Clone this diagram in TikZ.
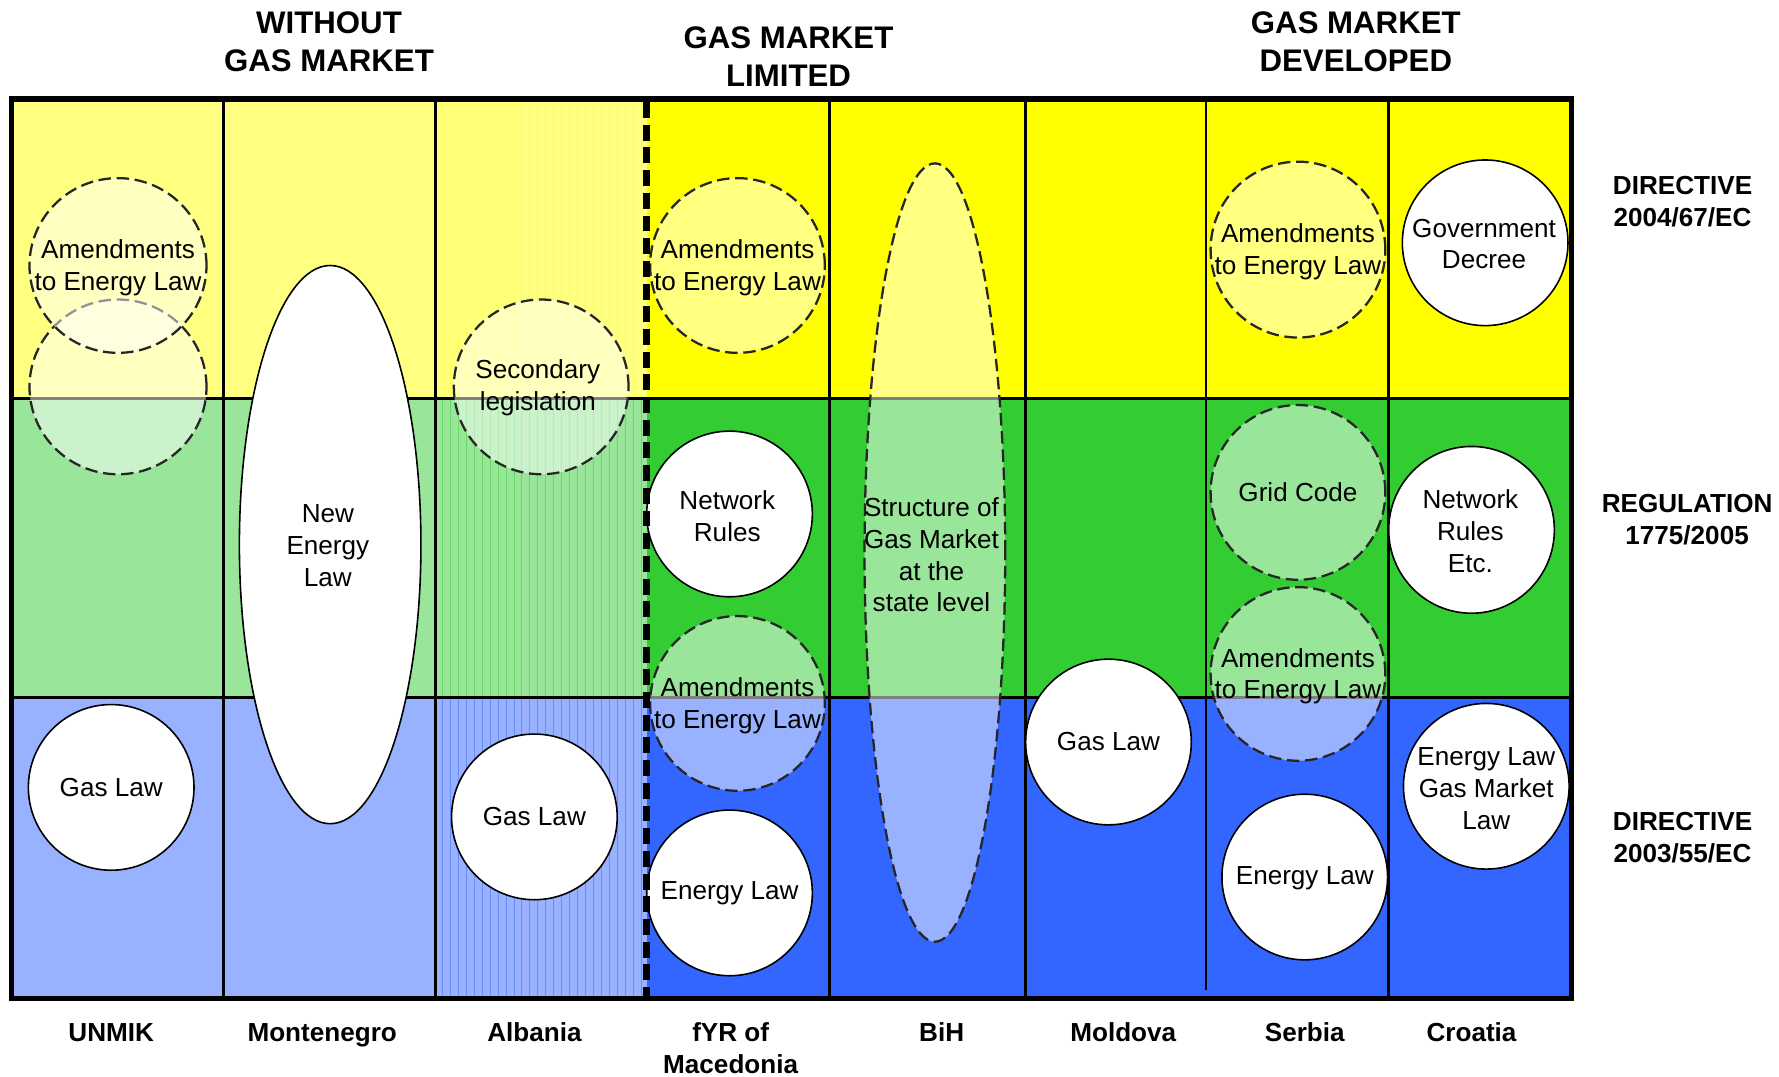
\documentclass[tikz,border=0pt]{standalone}
\usepackage{fontspec}
\setmainfont{Liberation Sans}
\usetikzlibrary{shapes.geometric}
\definecolor{yel}{HTML}{FFFF00}
\definecolor{grn}{HTML}{33CC33}
\definecolor{blu}{HTML}{3366FF}
\newcommand\myCellFont{\fontsize{23}{28}\selectfont}
\newcommand\myHeadFont{\fontsize{27.5}{33}\selectfont\bfseries}
\newcommand\myLabFont{\fontsize{23}{28}\selectfont\bfseries}
\tikzset{
  lawbox/.style={ellipse, draw=black, line width=1.4pt, fill=white, inner sep=0pt},
  amendbox/.style={ellipse, draw=black!85, line width=2pt, dash pattern=on 11pt off 5pt,
    fill=white, fill opacity=0.5, draw opacity=1, inner sep=0pt},
  celltext/.style={align=center, font=\myCellFont, inner sep=0pt},
  head/.style={align=center, font=\myHeadFont, inner sep=0pt},
  lab/.style={align=center, font=\myLabFont, inner sep=0pt, anchor=base},
  gridline/.style={line width=2.4pt, black},
}
\begin{document}
\begin{tikzpicture}[x=1pt,y=-1pt]
\useasboundingbox (0,0) rectangle (1568,949);
% backgrounds
\fill[yel!50!white] (10,87) rectangle (570,351);
\fill[grn!50!white] (10,351) rectangle (570,615);
\fill[blu!50!white] (10,615) rectangle (570,880);
\fill[yel] (570,87) rectangle (1385,351);
\fill[grn] (570,351) rectangle (1385,615);
\fill[blu] (570,615) rectangle (1385,880);
% Albania stripes
\foreach \x in {390,397,...,566} {
  \draw[yel!65!white, line width=0.8pt] (\x,87) -- (\x,351);
  \draw[grn!75!white, line width=0.8pt] (\x,351) -- (\x,615);
  \draw[blu!75!white, line width=0.8pt] (\x,615) -- (\x,880);
}
% grid lines
\foreach \x in {197,384,731,904,1224} \draw[gridline] (\x,87) -- (\x,880);
\draw[gridline] (1063,87) -- (1063,873);
\draw[gridline] (10,351) -- (1385,351);
\draw[gridline] (10,615) -- (1385,615);
% translucent dashed ellipses
\node[amendbox, minimum width=156pt, minimum height=154pt] (u2) at (104,341) {};
\node[amendbox, minimum width=156pt, minimum height=154pt] (u1) at (104,234) {};
\node[amendbox, minimum width=154pt, minimum height=154pt] (a1) at (477,341) {};
\node[amendbox, minimum width=154pt, minimum height=154pt] (f1) at (650,234) {};
\node[amendbox, minimum width=154pt, minimum height=154pt] (f3) at (650,620) {};
\node[amendbox, minimum width=124pt, minimum height=686pt] (b1) at (824,487) {};
\node[amendbox, minimum width=154pt, minimum height=155pt] (s1) at (1144,220) {};
\node[amendbox, minimum width=154pt, minimum height=154pt] (s2) at (1144,434) {};
\node[amendbox, minimum width=154pt, minimum height=153pt] (s3) at (1144,594) {};
% white ellipses
\node[lawbox, minimum width=146pt, minimum height=146pt] (u3) at (98,694) {};
\node[lawbox, minimum width=160pt, minimum height=492pt] (m1) at (291,480) {};
\node[lawbox, minimum width=146pt, minimum height=146pt] (a2) at (471,720) {};
\node[lawbox, minimum width=146pt, minimum height=146pt] (f2) at (643,453) {};
\node[lawbox, minimum width=146pt, minimum height=146pt] (f4) at (643,787) {};
\node[lawbox, minimum width=146pt, minimum height=146pt] (md1) at (977,654) {};
\node[lawbox, minimum width=146pt, minimum height=146pt] (s4) at (1150,773) {};
\node[lawbox, minimum width=146pt, minimum height=146pt] (c1) at (1309,214) {};
\node[lawbox, minimum width=146pt, minimum height=147pt] (c2) at (1297,467) {};
\node[lawbox, minimum width=146pt, minimum height=146pt] (c3) at (1310,693) {};
% texts
\node[celltext] (u1t) at (104,236) {Amendments\\to Energy Law};
\node[celltext] (a1t) at (474,342) {Secondary\\legislation};
\node[celltext] (f1t) at (650,236) {Amendments\\to Energy Law};
\node[celltext] (f3t) at (650,622) {Amendments\\to Energy Law};
\node[celltext] (b1t) at (821,489) {Structure of\\Gas Market\\at the\\state level};
\node[celltext] (s1t) at (1144,222) {Amendments\\to Energy Law};
\node[celltext] (s2t) at (1144,434) {Grid Code};
\node[celltext] (s3t) at (1144,596) {Amendments\\to Energy Law};
\node[celltext] (u3t) at (98,694) {Gas Law};
\node[celltext] (m1t) at (289,481) {New\\Energy\\Law};
\node[celltext] (a2t) at (471,720) {Gas Law};
\node[celltext] (f2t) at (641,455) {Network\\Rules};
\node[celltext] (f4t) at (643,787) {Energy Law};
\node[celltext] (md1t) at (977,654) {Gas Law};
\node[celltext] (s4t) at (1150,774) {Energy Law};
\node[celltext] (c1t) at (1308,215) {Government\\Decree};
\node[celltext] (c2t) at (1296,468) {Network\\Rules\\Etc.};
\node[celltext] (c3t) at (1310,695) {Energy Law\\Gas Market\\Law};
% dashed separator
\draw[line width=6pt, dash pattern=on 14pt off 6pt] (570,90) -- (570,878);
% outer frame
\draw[line width=5pt] (10,87) rectangle (1385,880);
% headers
\node[head] (h1) at (290,37) {WITHOUT\\GAS MARKET};
\node[head] (h2) at (695,50) {GAS MARKET\\LIMITED};
\node[head] (h3) at (1195,37) {GAS MARKET\\DEVELOPED};
% right labels
\node[align=center, font=\myLabFont, inner sep=0pt] (r1) at (1483,178) {DIRECTIVE\\2004/67/EC};
\node[align=center, font=\myLabFont, inner sep=0pt] (r2) at (1487,458) {REGULATION\\1775/2005};
\node[align=center, font=\myLabFont, inner sep=0pt] (r3) at (1483,738) {DIRECTIVE\\2003/55/EC};
% bottom labels
\node[lab] (l1) at (98,918) {UNMIK};
\node[lab] (l2) at (284,918) {Montenegro};
\node[lab] (l3) at (471,918) {Albania};
\node[lab, anchor=north] (l4) at (644,901) {fYR of\\Macedonia};
\node[lab] (l5) at (830,918) {BiH};
\node[lab] (l6) at (990,918) {Moldova};
\node[lab] (l7) at (1150,918) {Serbia};
\node[lab] (l8) at (1297,918) {Croatia};
\end{tikzpicture}
\end{document}
